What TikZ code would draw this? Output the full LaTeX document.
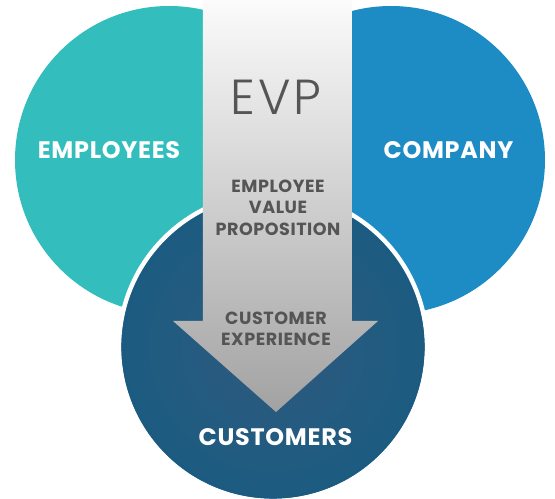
\documentclass[tikz,border=0pt]{standalone}
\usepackage{fontspec}
\setmainfont{Poppins}
\newfontfamily\evpfont[LetterSpace=6]{Poppins Light}
\newfontfamily\labelfont[LetterSpace=3]{Poppins}

\definecolor{empteal}{HTML}{33BEBD}
\definecolor{compblue}{HTML}{1E8CC4}
\definecolor{custdark}{HTML}{1C5B81}
\definecolor{custmid}{HTML}{2F5A7E}
\definecolor{arrowtop}{HTML}{FBFBFB}
\definecolor{arrowbot}{HTML}{A2A2A2}
\definecolor{textgray}{HTML}{555555}

\tikzset{
  circlelabel/.style={text=white, font=\labelfont\bfseries\fontsize{13.6}{16}\selectfont},
  arrowlabel/.style={text=textgray, font=\labelfont\bfseries\fontsize{10}{12.2}\selectfont, align=center},
}

\begin{document}
\begin{tikzpicture}

\useasboundingbox (0,0) rectangle (11.1,9.98);

 % the two upper circles
 \fill[empteal]  (3.38,6.78) circle (3.08);
 \fill[compblue] (7.82,6.78) circle (3.08);

 % customers circle with its white rim
 \shade[inner color=custmid, outer color=custdark] (5.46,3.04) circle (3.04);
 \draw[white, line width=2.5pt] (5.46,3.04) circle (3.08);

 % the big arrow
 \shade[top color=arrowtop, bottom color=arrowbot]
    (4.06,9.98) -- (7.04,9.98) -- (7.04,3.56) -- (7.56,3.56)
    -- (5.52,1.74) -- (3.46,3.56) -- (4.06,3.56) -- cycle;

 \node[circlelabel] (employees) at (2.18,6.98) {EMPLOYEES};
 \node[circlelabel] (company)   at (8.97,6.98) {COMPANY};
 \node[circlelabel] (customers) at (5.51,1.24) {CUSTOMERS};

 \node[text=textgray, font=\evpfont\fontsize{28}{30}\selectfont] (evp) at (5.52,8.04) {EVP};
 \node[arrowlabel] (proposition) at (5.56,5.83) {EMPLOYEE\\VALUE\\PROPOSITION};
 \node[arrowlabel] (experience)  at (5.52,3.40) {CUSTOMER\\EXPERIENCE};

\end{tikzpicture}
\end{document}
